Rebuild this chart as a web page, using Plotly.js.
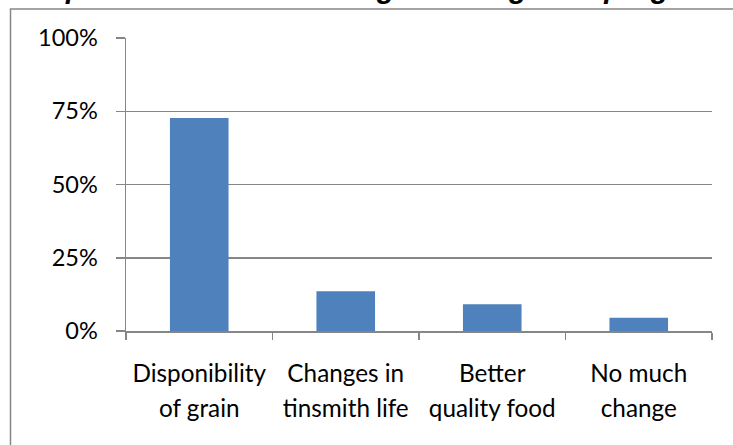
<!DOCTYPE html>
<html>
<head>
<meta charset="utf-8">
<script src="https://cdn.plot.ly/plotly-3.0.1.min.js"></script>
<style>
html,body{margin:0;padding:0;background:#fff;}
#chart{width:733px;height:445px;}
</style>
</head>
<body>
<div id="chart"></div>
<script>
const categories = ["Disponibility|of grain", "Changes in|tinsmith life", "Better|quality food", "No much|change"];
const values = [0.727, 0.136, 0.091, 0.045];
const yTicks = [0, 0.25, 0.5, 0.75, 1];
const yTickLabels = ["0%", "25%", "50%", "75%", "100%"];
const titleText = "Graph 10: Perceived Changes through the program";

const gray = "#868686";
const W = 733, H = 445;
const m = {l: 126, r: 21, t: 37.5, b: 113.5};
const pw = W - m.l - m.r, ph = H - m.t - m.b;
const px = x => (x - m.l) / pw;
const py = y => 1 - (y - m.t) / ph;

const tickLabelText = categories.map(c => c.split("|").map(s => "<span style='font-size:24.3px'>" + s + "</span>").join("<br>"));

const trace = {
  type: "bar",
  x: categories,
  y: values,
  marker: {color: "#4F81BD"},
  hoverinfo: "skip"
};

const layout = {
  width: W, height: H,
  margin: m,
  paper_bgcolor: "#fff",
  plot_bgcolor: "#fff",
  showlegend: false,
  bargap: 0.6,
  font: {family: "Lato, 'Liberation Sans', sans-serif", color: "#000"},
  xaxis: {
    type: "category",
    tickmode: "array",
    tickvals: categories,
    ticktext: tickLabelText,
    tickson: "boundaries",
    ticks: "outside",
    ticklen: 7,
    tickcolor: gray,
    tickwidth: 1.5,
    showline: true,
    linecolor: gray,
    linewidth: 1.5,
    showgrid: false,
    zeroline: false,
    tickfont: {size: 27, family: "Lato, sans-serif", color: "#000"},
    ticklabelstandoff: 17,
    fixedrange: true
  },
  yaxis: {
    range: [0, 1],
    tickmode: "array",
    tickvals: yTicks,
    ticktext: yTickLabels,
    ticks: "outside",
    ticklen: 9,
    tickcolor: gray,
    tickwidth: 1.5,
    showline: true,
    linecolor: gray,
    linewidth: 1.5,
    showgrid: true,
    gridcolor: gray,
    gridwidth: 1.5,
    zeroline: false,
    tickfont: {size: 23.5, family: "Lato, sans-serif", color: "#000"},
    ticklabelstandoff: 13,
    fixedrange: true
  },
  shapes: [{
    type: "rect", xref: "paper", yref: "paper",
    x0: px(10.5), x1: px(760), y0: py(480), y1: py(8.5),
    line: {color: gray, width: 1.5},
    fillcolor: "rgba(0,0,0,0)",
    layer: "below"
  }],
  annotations: [{
    text: "<b><i>" + titleText + "</i></b>",
    xref: "paper", yref: "paper",
    x: px(14), y: py(-12.5),
    xanchor: "left", yanchor: "middle",
    showarrow: false,
    font: {size: 29, family: "'Liberation Sans', Arial, sans-serif", color: "#000"}
  }]
};

Plotly.newPlot("chart", [trace], layout, {displayModeBar: false, staticPlot: true});
</script>
</body>
</html>
